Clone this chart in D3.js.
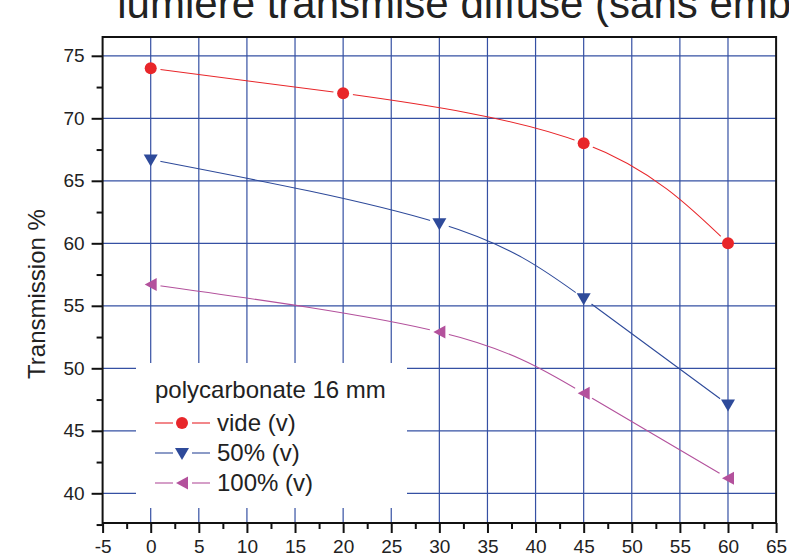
<!DOCTYPE html>
<html>
<head>
<meta charset="utf-8">
<script src="https://cdn.jsdelivr.net/npm/d3@7"></script>
<style>
  body { margin: 0; background: #fff; }
  svg { display: block; font-family: "Liberation Sans", Arial, sans-serif; }
</style>
</head>
<body>
<svg id="chart" width="789" height="557"></svg>
<script>
// angles (degrees) and transmission values per series
var angles = [0, 20, 45, 60];
var angles2 = [0, 30, 45, 60];
var vide = [74, 72, 68, 60];
var half = [66.7, 61.6, 55.6, 47.1];
var full = [56.7, 52.9, 48.0, 41.2];
var seriesNames = ["vide (v)", "50% (v)", "100% (v)"];
var xTicks = d3.range(-5, 66, 5);
var yTicks = d3.range(40, 76, 5);

var svg = d3.select("#chart");
var pLeft = 102.6, pRight = 776.1, pTop = 37, pBottom = 523;

var x = d3.scaleLinear().domain([-5, 65]).range([pLeft, pRight]);
var y = d3.scaleLinear().domain([40, 75]).range([493.3, 55.8]);

var series = [
  { name: seriesNames[0], xs: angles,  ys: vide, color: "#e8262a", sym: "circle" },
  { name: seriesNames[1], xs: angles2, ys: half, color: "#2e4a9a", sym: "down" },
  { name: seriesNames[2], xs: angles2, ys: full, color: "#b3519c", sym: "left" }
];

// title (cut off at the top of the picture)
var title = svg.append("text")
  .attr("y", 18)
  .attr("font-size", 42)
  .attr("fill", "#222")
  .text("lumière transmise diffuse (sans emballage)");
var tmp = svg.append("text").attr("font-size", 42).text("lumière ");
var pre = tmp.node().getComputedTextLength();
tmp.remove();
title.attr("x", 255 - pre);

// grid
var grid = svg.append("g").attr("stroke", "#3550a3").attr("stroke-width", 1.2);
grid.selectAll(".vg").data(d3.range(0, 61, 5)).enter().append("line")
  .attr("x1", function(d) { return x(d); }).attr("x2", function(d) { return x(d); })
  .attr("y1", pTop).attr("y2", pBottom);
grid.selectAll(".hg").data(yTicks).enter().append("line")
  .attr("y1", function(d) { return y(d); }).attr("y2", function(d) { return y(d); })
  .attr("x1", pLeft).attr("x2", pRight);

// legend background hides grid
svg.append("rect").attr("x", 136).attr("y", 363).attr("width", 271).attr("height", 145).attr("fill", "#fff");

// frame
svg.append("rect").attr("x", pLeft).attr("y", pTop).attr("width", pRight - pLeft).attr("height", pBottom - pTop)
  .attr("fill", "none").attr("stroke", "#111").attr("stroke-width", 2);

// axes
var fmt = function(d) { return String(d); };
var yAxis = d3.axisLeft(y).tickValues(yTicks).tickSize(11).tickPadding(7).tickFormat(fmt);
var yMinor = d3.axisLeft(y).tickValues(d3.range(37.5, 77, 5)).tickSize(6).tickFormat("");
var xAxis = d3.axisBottom(x).tickValues(xTicks).tickSize(10).tickPadding(7).tickFormat(fmt);
var xMinor = d3.axisBottom(x).tickValues(d3.range(-2.5, 65, 5)).tickSize(6).tickFormat("");

function style(g) {
  g.attr("font-size", 19).attr("font-family", "'Liberation Sans', Arial, sans-serif");
  g.select(".domain").remove();
  g.selectAll("line").attr("stroke", "#111").attr("stroke-width", 2);
  g.selectAll("text").attr("fill", "#222");
}
svg.append("g").attr("transform", "translate(" + pLeft + ",0)").call(yAxis).call(style);
svg.append("g").attr("transform", "translate(" + pLeft + ",0)").call(yMinor).call(style);
svg.append("g").attr("transform", "translate(0," + pBottom + ")").call(xAxis).call(style);
svg.append("g").attr("transform", "translate(0," + pBottom + ")").call(xMinor).call(style);

svg.append("text")
  .attr("transform", "translate(45,294) rotate(-90)")
  .attr("text-anchor", "middle")
  .attr("font-size", 24)
  .attr("fill", "#222")
  .text("Transmission %");

// symbols
function drawSym(g, sym, cx, cy, color) {
  if (sym === "circle") {
    g.append("circle").attr("cx", cx).attr("cy", cy).attr("r", 6).attr("fill", color);
  } else if (sym === "down") {
    g.append("path").attr("d", "M" + (cx - 7) + "," + (cy - 5) + "L" + (cx + 7) + "," + (cy - 5) + "L" + cx + "," + (cy + 7) + "Z").attr("fill", color);
  } else {
    g.append("path").attr("d", "M" + (cx - 6) + "," + cy + "L" + (cx + 6) + "," + (cy - 6.5) + "L" + (cx + 6) + "," + (cy + 6.5) + "Z").attr("fill", color);
  }
}

// mask to leave a gap round each marker
var defs = svg.append("defs");
series.forEach(function(s, i) {
  var m = defs.append("mask").attr("id", "m" + i).attr("maskUnits", "userSpaceOnUse")
    .attr("x", 0).attr("y", 0).attr("width", 789).attr("height", 557);
  m.append("rect").attr("width", 789).attr("height", 557).attr("fill", "#fff");
  s.xs.forEach(function(d, j) {
    m.append("circle").attr("cx", x(d)).attr("cy", y(s.ys[j])).attr("r", 10).attr("fill", "#000");
  });
});

var line = d3.line().curve(d3.curveNatural)
  .x(function(d) { return x(d[0]); }).y(function(d) { return y(d[1]); });

series.forEach(function(s, i) {
  var pts = s.xs.map(function(d, j) { return [d, s.ys[j]]; });
  svg.append("path").datum(pts).attr("d", line)
    .attr("fill", "none").attr("stroke", s.color).attr("stroke-width", 1.1)
    .attr("mask", "url(#m" + i + ")");
  var g = svg.append("g");
  pts.forEach(function(p) { drawSym(g, s.sym, x(p[0]), y(p[1]), s.color); });
});

// legend
var lg = svg.append("g");
lg.append("text").attr("x", 155).attr("y", 398).attr("font-size", 24).attr("fill", "#222")
  .text("polycarbonate 16 mm");
series.forEach(function(s, i) {
  var ly = 423 + i * 30;
  lg.append("line").attr("x1", 155).attr("x2", 173).attr("y1", ly).attr("y2", ly).attr("stroke", s.color).attr("stroke-width", 1.1);
  lg.append("line").attr("x1", 192).attr("x2", 210).attr("y1", ly).attr("y2", ly).attr("stroke", s.color).attr("stroke-width", 1.1);
  drawSym(lg, s.sym, 182, ly, s.color);
  lg.append("text").attr("x", 217).attr("y", ly + 8).attr("font-size", 24).attr("fill", "#222").text(s.name);
});
</script>
</body>
</html>
